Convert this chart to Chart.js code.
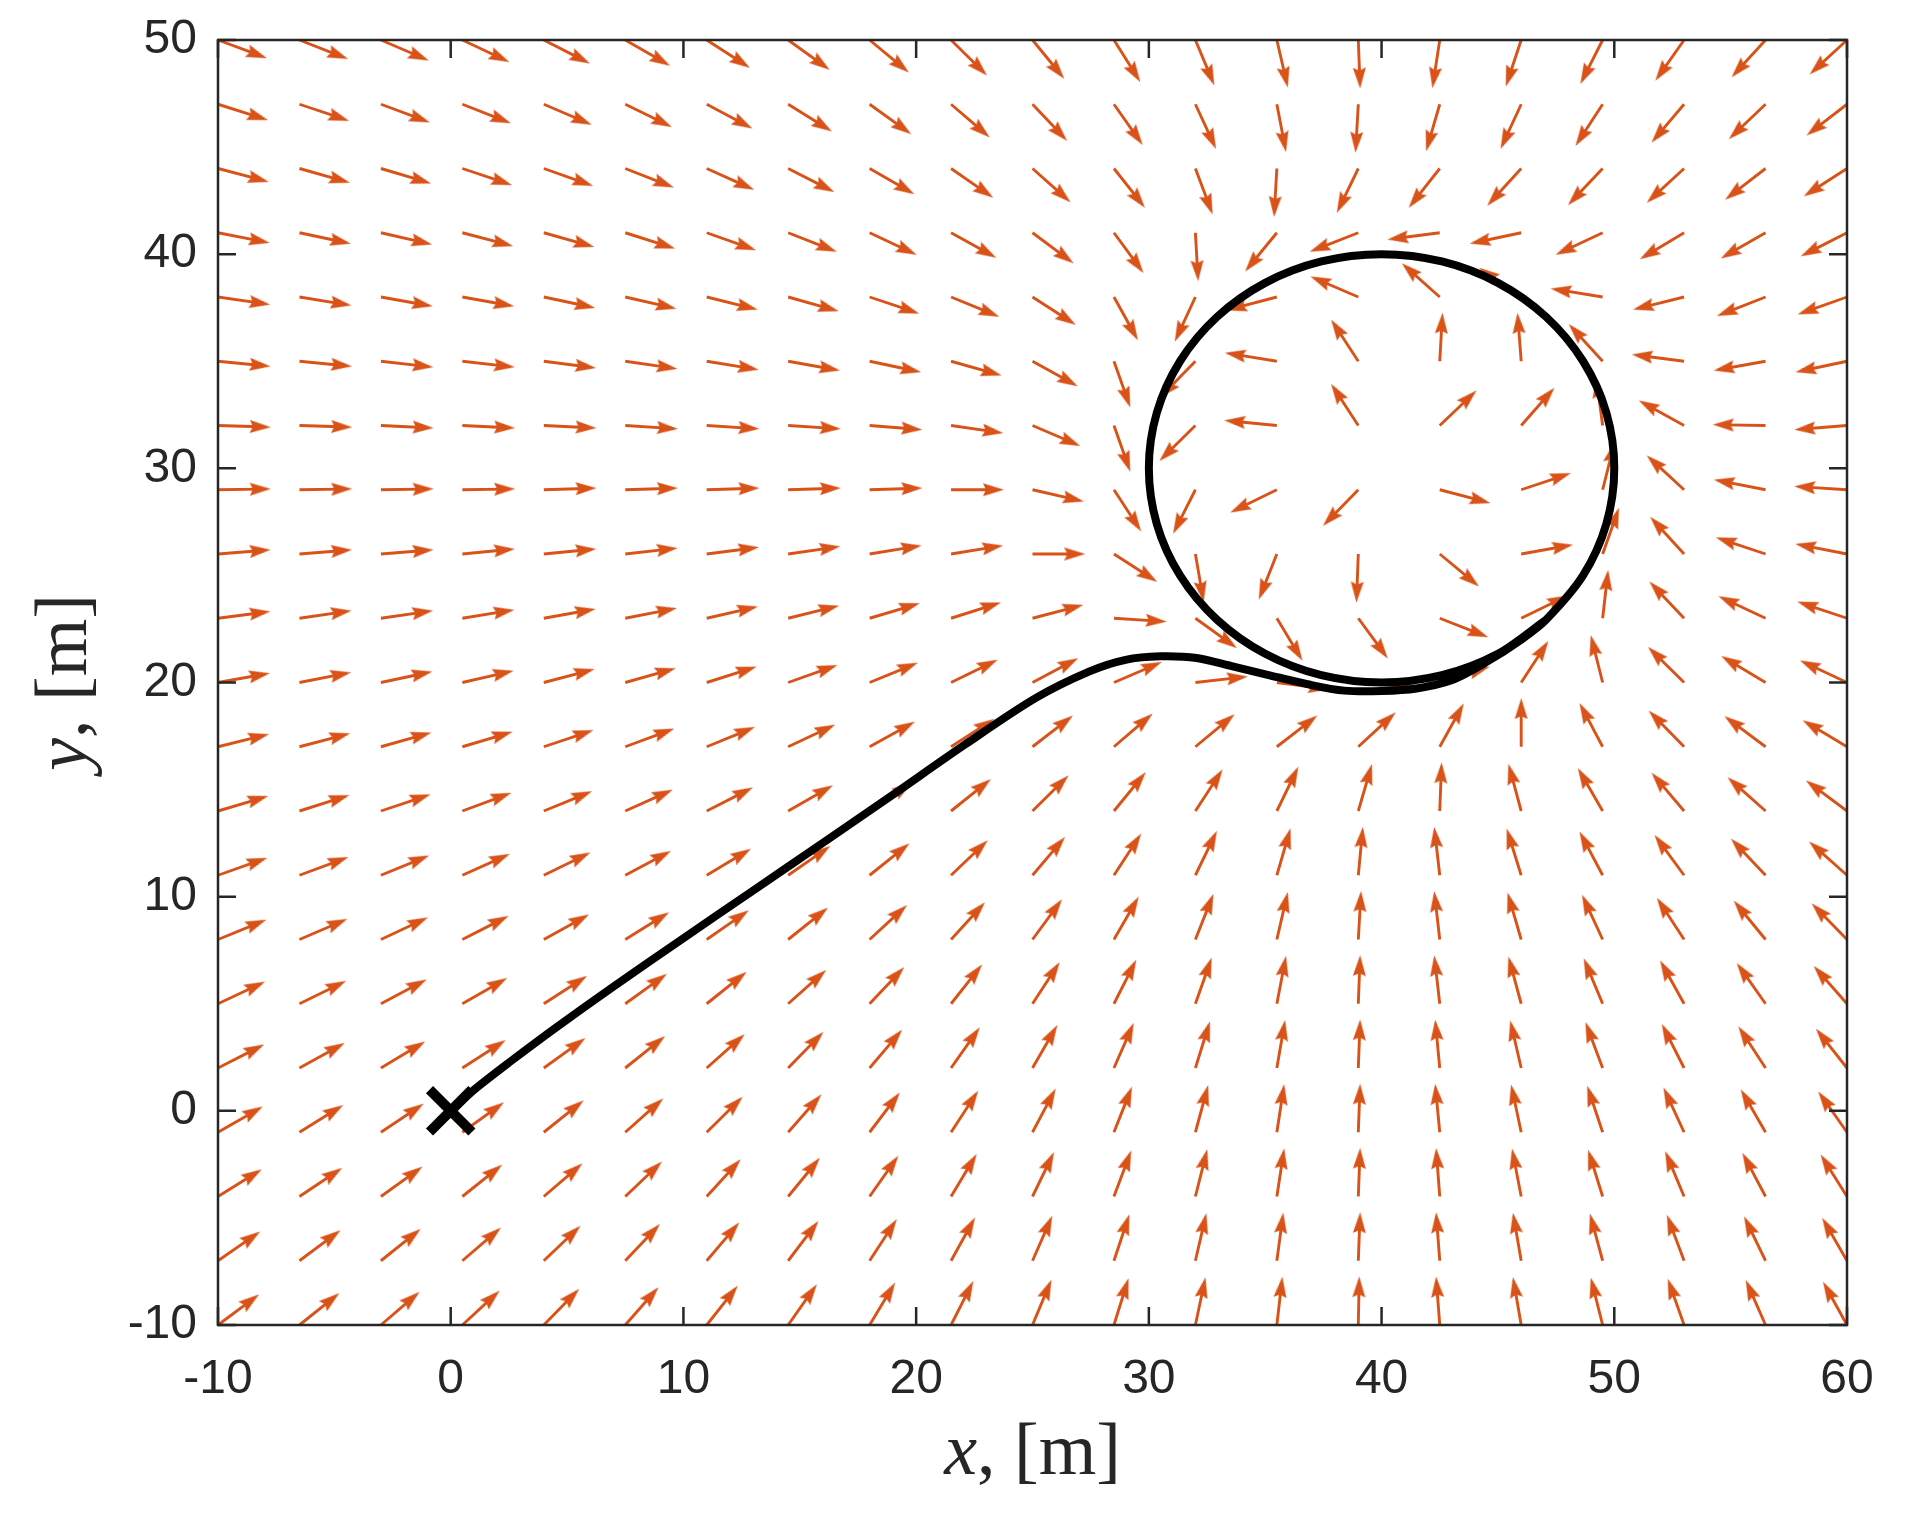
<!DOCTYPE html>
<html>
<head>
<meta charset="utf-8">
<script src="https://cdn.jsdelivr.net/npm/chart.js@4.4.1/dist/chart.umd.min.js"></script>
<style>
  html, body { margin: 0; padding: 0; background: #fff; }
  canvas { display: block; }
</style>
</head>
<body>
<canvas id="chart" width="1905" height="1513"></canvas>
<script>
// quiver grid (arrow tails)
const xGrid = [-10, -6.5, -3, 0.5, 4, 7.5, 11, 14.5, 18, 21.5, 25, 28.5, 32, 35.5, 39, 42.5, 46, 49.5, 53, 56.5, 60];
const yGrid = [-10, -7, -4, -1, 2, 5, 8, 11, 14, 17, 20, 23, 26, 29, 32, 35, 38, 41, 44, 47, 50];

// arrow direction in degrees, one row per yGrid value (bottom row first)
const fieldAngle = [
  [39, 41, 43, 45, 48, 51, 54, 57, 61, 65, 69, 74, 79, 84, 89, 94, 99, 103, 108, 112, 117],
  [37, 39, 41, 43, 46, 49, 52, 55, 59, 63, 68, 73, 78, 83, 88, 94, 99, 104, 109, 114, 118],
  [34, 36, 38, 41, 43, 46, 50, 53, 57, 61, 66, 71, 77, 82, 88, 94, 100, 106, 111, 116, 120],
  [32, 34, 36, 38, 41, 44, 47, 51, 55, 59, 64, 70, 76, 82, 88, 95, 101, 107, 113, 118, 123],
  [29, 31, 33, 35, 38, 41, 44, 48, 52, 57, 62, 68, 74, 81, 88, 95, 102, 109, 115, 121, 126],
  [27, 28, 30, 32, 35, 38, 41, 44, 49, 54, 59, 65, 72, 80, 88, 96, 104, 111, 117, 123, 129],
  [24, 25, 27, 29, 31, 34, 37, 41, 45, 50, 56, 62, 70, 78, 87, 96, 105, 113, 121, 127, 132],
  [21, 22, 24, 26, 28, 30, 33, 37, 41, 46, 52, 59, 66, 75, 85, 96, 106, 116, 124, 131, 136],
  [18, 19, 20, 22, 24, 26, 29, 32, 36, 41, 47, 53, 59, 66, 75, 88, 104, 118, 128, 136, 141],
  [15, 16, 17, 18, 20, 22, 24, 27, 31, 35, 40, 43, 42, 40, 45, 63, 90, 116, 132, 141, 147],
  [11, 12, 13, 14, 16, 17, 19, 21, 24, 28, 30, 25, 7, -8, -5, 19, 59, 103, 133, 147, 153],
  [8, 9, 9, 10, 11, 12, 14, 15, 18, 19, 16, -4, -38, -61, -56, -23, 28, 84, 131, 153, 160],
  [5, 5, 5, 6, 6, 7, 8, 9, 10, 10, 0, -35, -81, -110, -92, -42, 11, 72, 130, 160, 168],
  [1, 1, 1, 1, 2, 2, 2, 2, 2, 0, -14, -59, -115, -152, -132, -16, 20, 77, 135, 168, 176],
  [-2, -2, -3, -3, -3, -4, -4, -4, -5, -9, -25, -72, -133, 174, 121, 46, 51, 97, 149, 179, -175],
  [-6, -6, -7, -7, -8, -9, -10, -11, -13, -17, -31, -72, -132, 170, 121, 87, 94, 130, 172, -169, -167],
  [-9, -10, -11, -11, -13, -14, -15, -17, -20, -24, -35, -63, -113, -164, 155, 136, 143, 170, -165, -157, -159],
  [-12, -13, -14, -16, -17, -19, -21, -23, -27, -31, -39, -56, -87, -127, -157, -172, -167, -153, -147, -148, -151],
  [-16, -17, -18, -20, -21, -23, -26, -29, -32, -37, -44, -54, -71, -93, -114, -126, -130, -131, -135, -140, -145],
  [-19, -20, -22, -23, -25, -28, -30, -34, -38, -43, -49, -57, -67, -80, -93, -105, -113, -121, -128, -134, -140],
  [-22, -23, -25, -27, -29, -32, -35, -38, -42, -47, -53, -60, -69, -78, -88, -98, -107, -115, -123, -130, -135]
];

// vehicle path: approach from the start, then one lap of the loiter circle
const pathX = [0, 1, 2.5, 4.5, 7, 10, 13, 16, 19, 22.07, 25.13, 27.45, 29.0, 30.5, 32.05, 33.6, 35.1, 36.9, 38.4,
  40, 41.5, 43, 44.5, 46, 47.07, 48.66, 49.66, 50, 49.66, 48.66, 47.07, 45.0, 42.59, 40,
  37.41, 35.0, 32.93, 31.34, 30.34, 30, 30.34, 31.34, 32.93, 35.0, 37.41, 40, 42.59, 45.0, 47.07];
const pathY = [0, 0.98, 2.25, 3.87, 5.81, 8.06, 10.29, 12.52, 14.76, 17.08, 19.27, 20.52, 21.06, 21.22, 21.14, 20.75, 20.36, 19.9, 19.62,
  19.6, 19.72, 20.1, 20.95, 22.0, 22.93, 25.0, 27.41, 30, 32.59, 35.0, 37.07, 38.66, 39.66, 40,
  39.66, 38.66, 37.07, 35.0, 32.59, 30, 27.41, 25.0, 22.93, 21.34, 20.34, 20, 20.34, 21.34, 22.93];
const startPoint = [{ x: 0, y: 0 }];

const xTicks = [-10, 0, 10, 20, 30, 40, 50, 60];
const yTicks = [-10, 0, 10, 20, 30, 40, 50];

const ORANGE = "#D95319";
const AXIS = "#262626";
const ARROW_LEN = 2.27;   // data units
const HEAD_LEN = 21;      // px
const HEAD_HALF = 6.5;    // px

// build shafts (broken by null points) and head positions
const shaftPts = [];
const headPts = [];
yGrid.forEach((y, j) => {
  xGrid.forEach((x, i) => {
    const a = fieldAngle[j][i] * Math.PI / 180;
    const c = Math.cos(a), s = Math.sin(a);
    shaftPts.push({ x: x, y: y });
    shaftPts.push({ x: x + 0.78 * ARROW_LEN * c, y: y + 0.78 * ARROW_LEN * s });
    shaftPts.push({ x: x, y: null });
    headPts.push({ x: x + ARROW_LEN * c, y: y + ARROW_LEN * s, x0: x, y0: y });
  });
});

// arrow head image, tip at the centre of the canvas
const head = document.createElement("canvas");
head.width = HEAD_LEN * 2;
head.height = 15;
(function () {
  const g = head.getContext("2d");
  const cy = head.height / 2;
  g.fillStyle = ORANGE;
  g.beginPath();
  g.moveTo(0, cy - HEAD_HALF);
  g.lineTo(HEAD_LEN, cy);
  g.lineTo(0, cy + HEAD_HALF);
  g.lineTo(3, cy);
  g.closePath();
  g.fill();
})();

function headRotation(ctx) {
  const d = ctx.raw;
  if (!d) return 0;
  const sx = ctx.chart.scales.x, sy = ctx.chart.scales.y;
  const dx = sx.getPixelForValue(d.x) - sx.getPixelForValue(d.x0);
  const dy = sy.getPixelForValue(d.y) - sy.getPixelForValue(d.y0);
  return Math.atan2(dy, dx) * 180 / Math.PI;
}

// box with inward ticks on all four sides (MATLAB style)
const boxAxes = {
  id: "boxAxes",
  afterDatasetsDraw(chart) {
    const { ctx, chartArea: a, scales } = chart;
    const tl = 18;
    ctx.save();
    ctx.strokeStyle = AXIS;
    ctx.lineWidth = 2.5;
    ctx.beginPath();
    xTicks.forEach(v => {
      const px = scales.x.getPixelForValue(v);
      ctx.moveTo(px, a.bottom); ctx.lineTo(px, a.bottom - tl);
      ctx.moveTo(px, a.top); ctx.lineTo(px, a.top + tl);
    });
    yTicks.forEach(v => {
      const py = scales.y.getPixelForValue(v);
      ctx.moveTo(a.left, py); ctx.lineTo(a.left + tl, py);
      ctx.moveTo(a.right, py); ctx.lineTo(a.right - tl, py);
    });
    ctx.stroke();
    ctx.strokeRect(a.left, a.top, a.right - a.left, a.bottom - a.top);
    ctx.restore();
  }
};

function drawTitle(ctx, v, cx, base, rot) {
  const it = 'italic 74px "Liberation Serif", "Times New Roman", serif';
  const rm = '74px "Liberation Serif", "Times New Roman", serif';
  ctx.font = it;
  const w1 = ctx.measureText(v).width;
  ctx.font = rm;
  const w2 = ctx.measureText(", [m]").width;
  ctx.save();
  ctx.translate(cx, base);
  ctx.rotate(rot);
  const x0 = -(w1 + w2) / 2;
  ctx.textAlign = "left";
  ctx.textBaseline = "alphabetic";
  ctx.font = it;
  ctx.fillText(v, x0, 0);
  ctx.font = rm;
  ctx.fillText(", [m]", x0 + w1, 0);
  ctx.restore();
}

const axisTitles = {
  id: "axisTitles",
  afterDraw(chart) {
    const { ctx, chartArea: a } = chart;
    ctx.save();
    ctx.fillStyle = AXIS;
    drawTitle(ctx, "x", (a.left + a.right) / 2, 1474, 0);
    drawTitle(ctx, "y", 86, (a.top + a.bottom) / 2, -Math.PI / 2);
    ctx.restore();
  }
};

const tickFont = { family: '"Liberation Sans", Arial, Helvetica, sans-serif', size: 48, lineHeight: 1.2 };

new Chart(document.getElementById("chart"), {
  type: "scatter",
  data: {
    datasets: [
      {
        data: startPoint,
        pointStyle: "crossRot",
        pointRadius: 30,
        pointBorderWidth: 10,
        pointBorderColor: "#000",
        pointBackgroundColor: "#000",
        showLine: false,
        order: 0
      },
      {
        data: pathX.map((x, i) => ({ x: x, y: pathY[i] })),
        showLine: true,
        borderColor: "#000",
        borderWidth: 8,
        borderJoinStyle: "round",
        borderCapStyle: "round",
        tension: 0.3,
        pointRadius: 0,
        order: 1
      },
      {
        data: headPts,
        pointStyle: head,
        pointRadius: 1,
        pointBorderWidth: 0,
        pointRotation: headRotation,
        showLine: false,
        order: 2
      },
      {
        data: shaftPts,
        showLine: true,
        spanGaps: false,
        borderColor: ORANGE,
        borderWidth: 2.9,
        borderCapStyle: "butt",
        pointRadius: 0,
        order: 3
      }
    ]
  },
  options: {
    responsive: false,
    animation: false,
    devicePixelRatio: 1,
    events: [],
    clip: false,
    layout: { padding: { top: 37, right: 58, left: 0, bottom: 0 } },
    plugins: {
      legend: { display: false },
      tooltip: { enabled: false }
    },
    scales: {
      x: {
        type: "linear",
        min: -10,
        max: 60,
        afterBuildTicks: s => { s.ticks = xTicks.map(v => ({ value: v })); },
        afterFit: s => { s.height = 188; s.paddingLeft = 0; s.paddingRight = 0; },
        grid: { display: false, drawTicks: false },
        border: { display: false },
        ticks: { padding: 26, color: AXIS, font: tickFont, maxRotation: 0, autoSkip: false }
      },
      y: {
        type: "linear",
        min: -10,
        max: 50,
        afterBuildTicks: s => { s.ticks = yTicks.map(v => ({ value: v })); },
        afterFit: s => { s.width = 218; s.paddingTop = 0; s.paddingBottom = 0; },
        grid: { display: false, drawTicks: false },
        border: { display: false },
        ticks: { padding: 21, color: AXIS, font: tickFont, autoSkip: false }
      }
    }
  },
  plugins: [boxAxes, axisTitles]
});
</script>
</body>
</html>
